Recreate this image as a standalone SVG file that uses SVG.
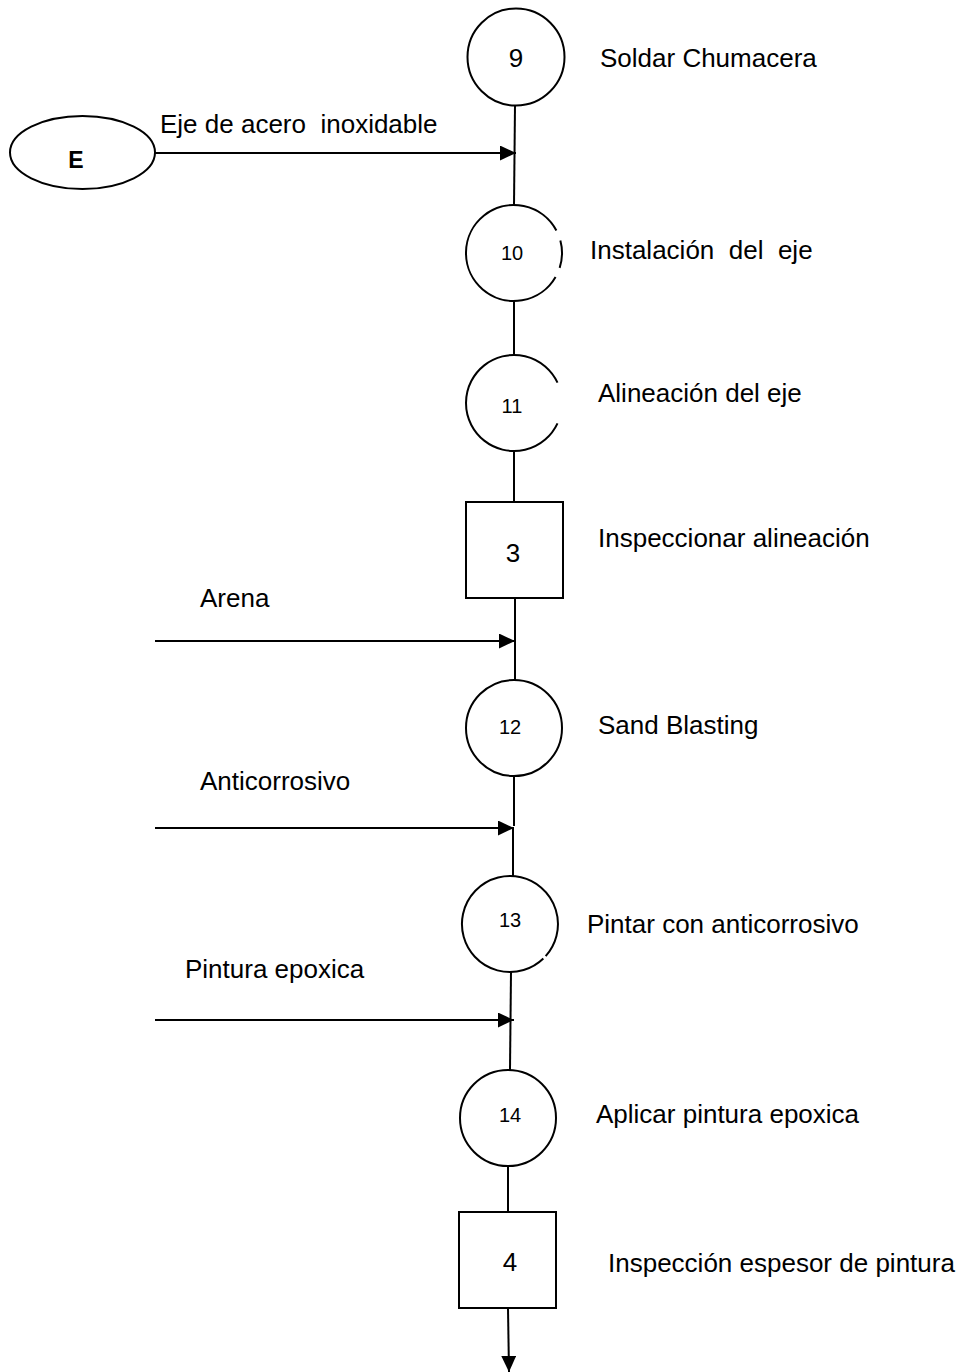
<svg xmlns="http://www.w3.org/2000/svg" width="968" height="1372" viewBox="0 0 968 1372">
<style>
.s{fill:none;stroke:#000;stroke-width:2}
.n{fill:#fff;stroke:#000;stroke-width:2}
.t{font-family:"Liberation Sans",Arial,sans-serif;font-size:26px;fill:#000;white-space:pre}
.num{font-family:"Liberation Sans",Arial,sans-serif;font-size:20px;fill:#000;text-anchor:middle}
.big{font-family:"Liberation Sans",Arial,sans-serif;font-size:26px;fill:#000;text-anchor:middle}
</style>
<defs>
<marker id="ah" viewBox="0 0 15 14" refX="15" refY="7" markerWidth="16" markerHeight="15" markerUnits="userSpaceOnUse" orient="auto">
<path d="M0,0 L15,7 L0,14 z" fill="#000"/>
</marker>
</defs>
<rect width="968" height="1372" fill="#fff"/>
<g id="connectors">
<line class="s" x1="515" y1="105" x2="514" y2="205"/>
<line class="s" x1="514" y1="301" x2="514" y2="355"/>
<line class="s" x1="514" y1="451" x2="514" y2="502"/>
<line class="s" x1="515" y1="598" x2="515" y2="680"/>
<path class="s" d="M514,774 L514,826 M513,828 L513,876"/>
<line class="s" x1="511" y1="972" x2="510" y2="1070"/>
<line class="s" x1="508" y1="1166" x2="508" y2="1212"/>
<line class="s" x1="508" y1="1308" x2="509" y2="1372" marker-end="url(#ah)"/>
<line class="s" x1="155" y1="153" x2="516" y2="153" marker-end="url(#ah)"/>
<line class="s" x1="155" y1="641" x2="515" y2="641" marker-end="url(#ah)"/>
<line class="s" x1="155" y1="828" x2="514" y2="828" marker-end="url(#ah)"/>
<line class="s" x1="155" y1="1020" x2="514" y2="1020" marker-end="url(#ah)"/>
<text class="t" x="160" y="133">Eje de acero  inoxidable</text>
<text class="t" x="200" y="607">Arena</text>
<text class="t" x="200" y="790">Anticorrosivo</text>
<text class="t" x="185" y="978">Pintura epoxica</text>
</g>
<g id="nodeE">
<ellipse class="n" cx="82.5" cy="152.5" rx="72.5" ry="36.5"/>
<text x="76" y="168" text-anchor="middle" font-family="Liberation Sans, Arial, sans-serif" font-weight="bold" font-size="23">E</text>
</g>
<g id="op9">
<circle class="n" cx="516" cy="57" r="48.5"/>
<text class="big" x="516" y="67">9</text>
<text class="t" x="600" y="67">Soldar Chumacera</text>
</g>
<g id="op10">
<path class="s" d="M556.38,230.46 A48,48 0 1 0 555.57,277"/>
<path class="s" d="M560.36,240.58 A48,48 0 0 1 559.65,267.83"/>
<text class="num" x="512" y="260">10</text>
<text class="t" x="590" y="259">Instalación  del  eje</text>
</g>
<g id="op11">
<path class="s" d="M557.5,382.7 A48,48 0 1 0 557.5,423.3"/>
<text class="num" x="512" y="413">11</text>
<text class="t" x="598" y="402">Alineación del eje</text>
</g>
<g id="insp3">
<rect class="n" x="466" y="502" width="97" height="96"/>
<text class="big" x="513" y="562">3</text>
<text class="t" x="598" y="547">Inspeccionar alineación</text>
</g>
<g id="op12">
<circle class="n" cx="514" cy="728" r="48"/>
<text class="num" x="510" y="734">12</text>
<text class="t" x="598" y="734">Sand Blasting</text>
</g>
<g id="op13">
<path class="s" d="M545.67,956.12 A48,48 0 1 0 543.35,958.53"/>
<text class="num" x="510" y="927">13</text>
<text class="t" x="587" y="933">Pintar con anticorrosivo</text>
</g>
<g id="op14">
<circle class="n" cx="508" cy="1118" r="48"/>
<text class="num" x="510" y="1122">14</text>
<text class="t" x="596" y="1123">Aplicar pintura epoxica</text>
</g>
<g id="insp4">
<rect class="n" x="459" y="1212" width="97" height="96"/>
<text class="big" x="510" y="1271">4</text>
<text class="t" x="608" y="1272">Inspección espesor de pintura</text>
</g>
</svg>
